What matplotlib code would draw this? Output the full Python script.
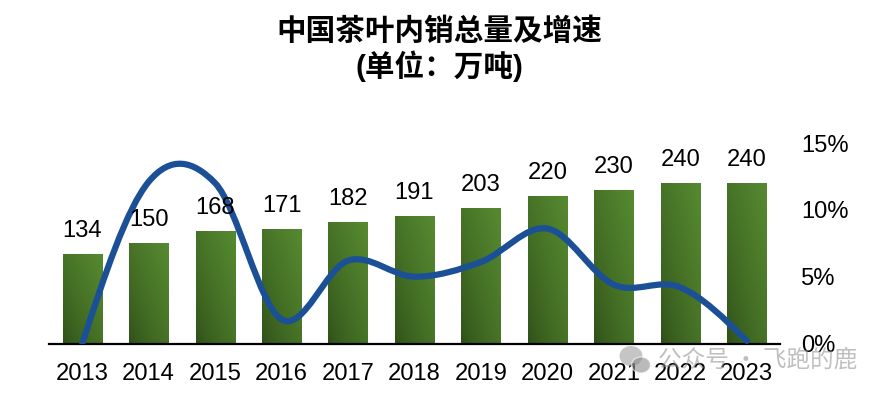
import numpy as np
from matplotlib import pyplot as plt
from matplotlib.path import Path
from matplotlib.patches import PathPatch, Ellipse

plt.rcParams['font.family'] = ['Liberation Sans', 'Noto Sans CJK SC']

years = ['2013', '2014', '2015', '2016', '2017', '2018', '2019', '2020', '2021', '2022', '2023']
sales = [134, 150, 168, 171, 182, 191, 203, 220, 230, 240, 240]
growth = [0.0, 12.1, 12.0, 1.8, 6.2, 5.0, 6.1, 8.6, 4.4, 4.2, 0.2]
growth_ticks = [0, 5, 10, 15]

W, H = 885, 395
fig = plt.figure(figsize=(W / 100, H / 100), dpi=100)
# axes box in pixels: baseline at y=343.5, 15% at y=143
ax = fig.add_axes([49 / W, 1 - 343.5 / H, 731 / W, 200.5 / H])
x = np.arange(len(years))

# diagonal gradient for the bars, dark bottom left to light top right
gx, gy = np.meshgrid(np.linspace(0, 1, 40), np.linspace(0, 1, 80))
t = (0.5 * gx + 0.5 * gy) ** 0.7
dark = np.array([0x2e, 0x4e, 0x18]) / 255
light = np.array([0x56, 0x8a, 0x30]) / 255
grad = dark + (light - dark) * t[..., None]

bar_w = 0.59
for i, v in zip(x, sales):
    ax.imshow(grad, origin='lower', extent=(i - bar_w / 2, i + bar_w / 2, 0, v),
              aspect='auto', zorder=2, interpolation='bilinear')
ax.set_xlim(-0.5, 10.5)
ax.set_ylim(0, 302)

ax.set_xticks(x)
ax.set_xticklabels(years, fontsize=17.1)
ax.tick_params(axis='x', length=0, pad=14)
ax.set_yticks([])
for s in ['top', 'left', 'right']:
    ax.spines[s].set_visible(False)
ax.spines['bottom'].set_linewidth(1.6)

# growth line on its own axis, smoothed like an office chart
ax2 = ax.twinx()
ax2.set_ylim(0, 15)
ax2.set_yticks(growth_ticks)
ax2.set_yticklabels([f'{g}%' for g in growth_ticks], fontsize=17.1)
ax2.tick_params(axis='y', length=0, pad=15)
for s in ax2.spines:
    ax2.spines[s].set_visible(False)
ax2.patch.set_visible(False)

g = np.array(growth)
tang = np.zeros(len(g))
tang[1:-1] = (g[2:] - g[:-2]) / 2
# the ends get a steeper tangent, the curve leaves 2013 nearly straight
tang[0] = (3 * (g[1] - g[0]) - tang[1]) / 2
tang[-1] = (3 * (g[-1] - g[-2]) - tang[-2]) / 2
verts = [(x[0], g[0])]
codes = [Path.MOVETO]
for i in range(len(g) - 1):
    verts += [(x[i] + 1 / 3, g[i] + tang[i] / 3),
              (x[i + 1] - 1 / 3, g[i + 1] - tang[i + 1] / 3),
              (x[i + 1], g[i + 1])]
    codes += [Path.CURVE4] * 3
ax2.add_patch(PathPatch(Path(verts, codes), fill=False, edgecolor='#1c5096',
                        linewidth=4.5, capstyle='round', zorder=3))

# labels sit above the line, so they go on ax2 but use the bar scale
for i, v in zip(x, sales):
    ax2.annotate(str(v), xy=(i, v), xycoords=ax.transData, xytext=(0, 17.3),
                 textcoords='offset points', ha='center', va='center',
                 fontsize=17.1, color='black', zorder=6)

fig.text(439 / W, 1 - 31 / H, '中国茶叶内销总量及增速', ha='center', va='center',
         fontsize=21.3, fontweight='bold', family=['Noto Sans CJK SC'])
fig.text(439 / W, 1 - 66 / H, '(单位\uff1a万吨)', ha='center', va='center',
         fontsize=21.3, fontweight='bold', family=['Liberation Sans', 'Noto Sans CJK SC'])

# watermark in the bottom right corner
wm = '#8c8c8c'
fig.text(658 / W, 1 - 360 / H, '公众号 · 飞跑的鹿', ha='left', va='center', fontsize=17,
         color=wm, alpha=0.55, family=['Noto Sans CJK SC'])
fig.add_artist(Ellipse((631 / W, 1 - 356 / H), 23 / W, 20 / H, transform=fig.transFigure,
                       facecolor=wm, alpha=0.5, edgecolor='none'))
fig.add_artist(Ellipse((641 / W, 1 - 365 / H), 19 / W, 16 / H, transform=fig.transFigure,
                       facecolor=wm, alpha=0.6, edgecolor='white', linewidth=1))

fig.savefig('out.png', dpi=100)
